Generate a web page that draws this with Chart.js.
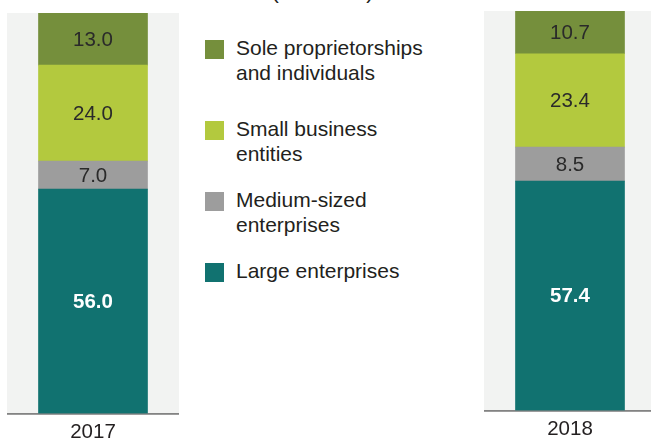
<!DOCTYPE html>
<html>
<head>
<meta charset="utf-8">
<script src="https://cdn.jsdelivr.net/npm/chart.js@4/dist/chart.umd.min.js"></script>
<style>
  html, body { margin: 0; padding: 0; background: #fff; overflow: hidden; }
  body { width: 651px; height: 439px; position: relative; font-family: "Liberation Sans", Arial, sans-serif; color: #231f20; }
  .panel { position: absolute; top: 0; width: 172px; }
  #panel2017 { left: 7px; height: 452px; }
  #panel2018 { left: 484px; height: 449px; }
  .title { position: absolute; top: -20px; left: 200px; width: 245px; text-align: center; font-size: 21px; }
  .legend { position: absolute; left: 205px; top: 35px; }
  .legend .item { display: flex; align-items: flex-start; margin-bottom: 21px; }
  .legend .item:first-child { margin-bottom: 31px; }
  .legend .box { width: 19px; height: 19px; margin-top: 5px; flex: none; }
  .legend .text { margin-left: 12px; width: 200px; font-size: 21px; line-height: 25px; }
</style>
</head>
<body>
<div class="title">(% of total)</div>
<div class="panel" id="panel2017"><canvas id="chart2017"></canvas></div>
<div class="panel" id="panel2018"><canvas id="chart2018"></canvas></div>
<div class="legend" id="legend"></div>

<script>
// Data

const years = ['2017', '2018'];
const seriesNames = [
  'Large enterprises',
  'Medium-sized enterprises',
  'Small business entities',
  'Sole proprietorships and individuals',
];
const largeEnterprises = [56.0, 57.4];
const mediumEnterprises = [7.0, 8.5];
const smallBusiness = [24.0, 23.4];
const soleProprietors = [13.0, 10.7];

// Styles

const seriesValues = [largeEnterprises, mediumEnterprises, smallBusiness, soleProprietors];
const seriesColors = ['#117270', '#9d9d9d', '#b3c93e', '#758f3c'];
const panelTop = [13, 11];

const panelBackground = {
  id: 'panelBackground',
  beforeDatasetsDraw(chart) {
    const {ctx, chartArea} = chart;
    ctx.save();
    ctx.fillStyle = '#f2f3f2';
    ctx.fillRect(chartArea.left, chartArea.top, chartArea.right - chartArea.left, chartArea.bottom - chartArea.top);
    ctx.restore();
  }
};

const barValues = {
  id: 'barValues',
  afterDatasetsDraw(chart) {
    const ctx = chart.ctx;
    ctx.save();
    ctx.textAlign = 'center';
    ctx.textBaseline = 'middle';
    chart.data.datasets.forEach(function(ds, i) {
      const meta = chart.getDatasetMeta(i);
      meta.data.forEach(function(bar, j) {
        const big = i === 0;
        ctx.font = (big ? 'bold ' : '') + '20.5px "Liberation Sans", Arial, sans-serif';
        ctx.fillStyle = big ? '#ffffff' : '#2a2a2a';
        ctx.fillText(ds.data[j].toFixed(1), bar.x, (bar.y + bar.base) / 2 + 1);
      });
    });
    ctx.restore();
  }
};

function makeChart(canvasId, idx) {
  const ctx = document.getElementById(canvasId).getContext('2d');
  return new Chart(ctx, {
    type: 'bar',
    data: {
      labels: [years[idx]],
      datasets: seriesValues.map(function(values, i) {
        return {
          label: seriesNames[i],
          data: [values[idx]],
          backgroundColor: seriesColors[i],
          borderWidth: 0,
          barThickness: 109,
        };
      }),
    },
    options: {
      responsive: true,
      maintainAspectRatio: false,
      animation: false,
      layout: { padding: { top: panelTop[idx], left: 0, right: 0, bottom: 0 } },
      plugins: { legend: { display: false }, tooltip: { enabled: false } },
      scales: {
        x: {
          stacked: true,
          grid: { display: false, drawTicks: false },
          border: { display: true, color: '#3a3a3a', width: 1.5 },
          ticks: {
            padding: 7,
            color: '#231f20',
            font: { size: 20.5, family: '"Liberation Sans", Arial, sans-serif' },
          },
        },
        y: { stacked: true, display: false, min: 0, max: 100 },
      },
    },
    plugins: [panelBackground, barValues],
  });
}

makeChart('chart2017', 0);
makeChart('chart2018', 1);

// Legend

const legend = document.getElementById('legend');
for (let i = seriesNames.length - 1; i >= 0; i--) {
  const item = document.createElement('div');
  item.className = 'item';
  item.innerHTML = '<div class="box" style="background:' + seriesColors[i] + '"></div>' +
    '<div class="text">' + seriesNames[i] + '</div>';
  legend.appendChild(item);
}
</script>
</body>
</html>
